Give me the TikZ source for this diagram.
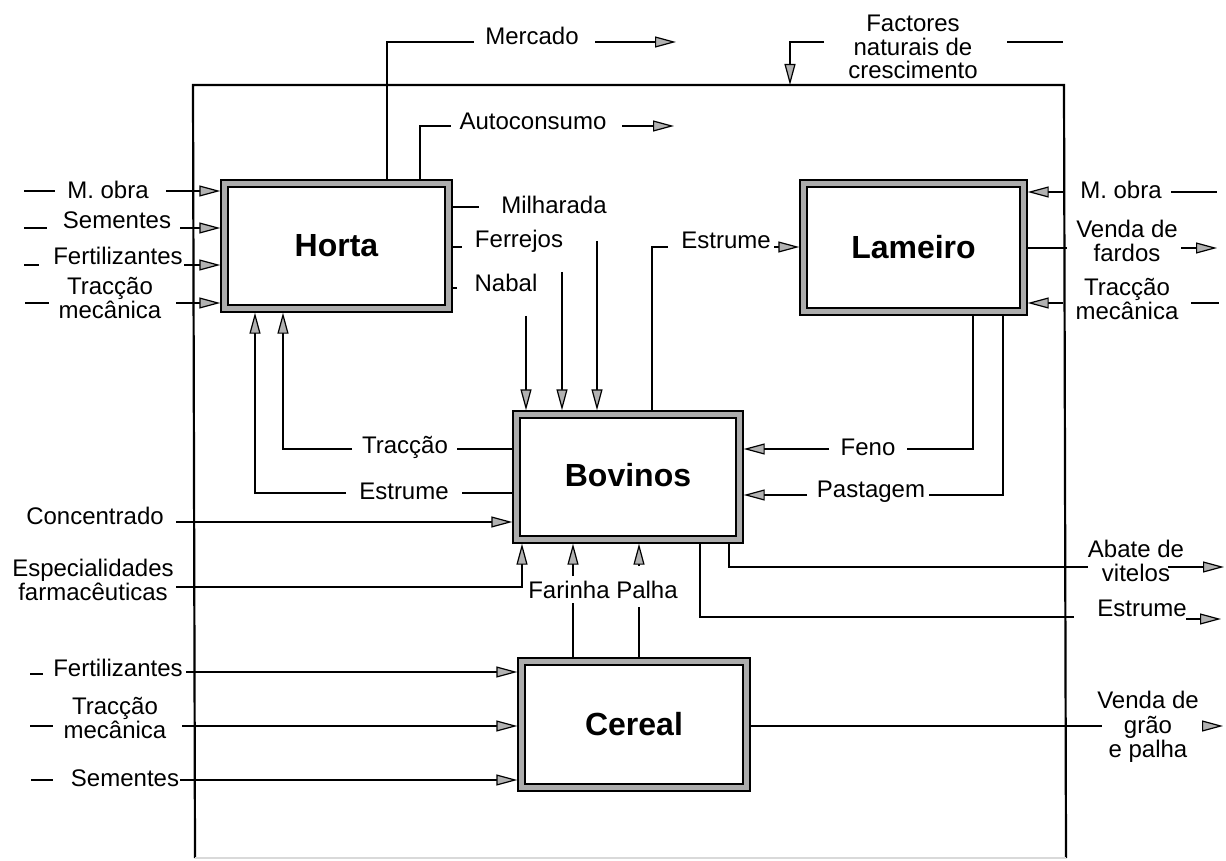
\documentclass[tikz,border=0pt]{standalone}
\usepackage{fontspec}
\setmainfont{Liberation Sans}
\usetikzlibrary{arrows.meta}
\begin{document}
\begin{tikzpicture}[x=0.5pt,y=-0.5pt,line width=0.9pt,
  lbl/.style={font=\fontsize{12}{11.8}\selectfont, inner sep=1pt, align=center},
  boxst/.style={rectangle, draw=black, line width=0.8pt, double=gray!65, double distance=2.6pt,
     inner sep=0pt, outer sep=2.1pt, font=\fontsize{16}{17}\selectfont\bfseries},
  arr/.style={-{Triangle[length=10.5pt,width=5.5pt,fill=gray!60,line width=0.6pt]}}
]
\useasboundingbox (0,0) rectangle (1226,861);

% outer frame
\coordinate (fTL) at (193,85);
\coordinate (fTR) at (1064,85);
\coordinate (fBL) at (195,858);
\coordinate (fBR) at (1066,858);
\draw[line width=1.1pt] (fBL) -- (fTL) -- (fTR) -- (fBR);
\draw[gray!30, line width=0.8pt] (fBL) -- (fBR);

% boxes
\node[boxst, minimum width=112pt, minimum height=62.5pt] (horta) at (336.5,246) {Horta};
\node[boxst, minimum width=110pt, minimum height=64pt] (lameiro) at (913.5,247.5) {Lameiro};
\node[boxst, minimum width=111.5pt, minimum height=62.5pt] (bovinos) at (628,477) {\raisebox{2pt}{Bovinos}};
\node[boxst, minimum width=112.5pt, minimum height=63pt] (cereal) at (634,724.5) {Cereal};

% Mercado
\coordinate (mkA) at (387,42); \coordinate (mkB) at (474,42);
\coordinate (mkC) at (595,42); \coordinate (mkD) at (676,42);
\node[lbl] (mercado) at (532,36) {Mercado};
\draw (horta.north -| mkA) -- (mkA) -- (mkB);
\draw[arr] (mkC) -- (mkD);

% Autoconsumo
\coordinate (acA) at (420,126); \coordinate (acB) at (451,126);
\coordinate (acC) at (622,126); \coordinate (acD) at (674,126);
\node[lbl] (autoc) at (533,121) {Autoconsumo};
\draw (horta.north -| acA) -- (acA) -- (acB);
\draw[arr] (acC) -- (acD);

% Factores naturais de crescimento
\node[lbl] (factores) at (913,47) {Factores\\naturais de\\crescimento};
\coordinate (fnA) at (824,42); \coordinate (fnB) at (790,42);
\coordinate (fnC) at (1007,42); \coordinate (fnD) at (1063,42);
\draw[arr] (fnA) -- (fnB) -- (fnB |- fTL);
\draw (fnC) -- (fnD);

% Horta inputs (left)
\node[lbl] (hmo) at (108,190) {M. obra};
\coordinate (hmoA) at (24,191); \coordinate (hmoB) at (55,191); \coordinate (hmoC) at (166,191);
\draw (hmoA) -- (hmoB);
\draw[arr] (hmoC) -- (hmoC -| horta.west);

\node[lbl] (hsem) at (117,220) {Sementes};
\coordinate (hsemA) at (24,228); \coordinate (hsemB) at (47,228); \coordinate (hsemC) at (180,228);
\draw (hsemA) -- (hsemB);
\draw[arr] (hsemC) -- (hsemC -| horta.west);

\node[lbl] (hfer) at (118,256) {Fertilizantes};
\coordinate (hferA) at (24,265); \coordinate (hferB) at (39,265); \coordinate (hferC) at (184,265);
\draw (hferA) -- (hferB);
\draw[arr] (hferC) -- (hferC -| horta.west);

\node[lbl] (htm) at (110,298) {Tracção\\mecânica};
\coordinate (htmA) at (25,303); \coordinate (htmB) at (49,303); \coordinate (htmC) at (176,303);
\draw (htmA) -- (htmB);
\draw[arr] (htmC) -- (htmC -| horta.west);

% Horta right ticks
\node[lbl] (milh) at (554,205) {Milharada};
\coordinate (milhA) at (479,207);
\draw (milhA -| horta.east) -- (milhA);
\node[lbl] (ferr) at (519,241) {Ferrejos};
\coordinate (ferrA) at (462,247);
\draw (ferrA -| horta.east) -- (ferrA);
\node[lbl] (nabal) at (506,283) {Nabal};
\coordinate (nabA) at (457,288);
\draw (nabA -| horta.east) -- (nabA);

% three inputs down into Bovinos
\coordinate (dn1) at (526,316); \coordinate (dn2) at (562,272); \coordinate (dn3) at (597,241);
\draw[arr] (dn1) -- (dn1 |- bovinos.north);
\draw[arr] (dn2) -- (dn2 |- bovinos.north);
\draw[arr] (dn3) -- (dn3 |- bovinos.north);

% Estrume Bovinos -> Lameiro
\node[lbl] (estL) at (726,240) {Estrume};
\coordinate (elA) at (652,247); \coordinate (elB) at (668,247); \coordinate (elC) at (774,247);
\draw (bovinos.north -| elA) -- (elA) -- (elB);
\draw[arr] (elC) -- (elC -| lameiro.west);

% Lameiro right side
\node[lbl] (lmo) at (1121,190) {M. obra};
\coordinate (lmoA) at (1063,192); \coordinate (lmoB) at (1171,192); \coordinate (lmoC) at (1217,192);
\draw[arr] (lmoA) -- (lmoA -| lameiro.east);
\draw (lmoB) -- (lmoC);

\node[lbl] (lvf) at (1127,241) {Venda de\\fardos};
\coordinate (lvfA) at (1067,248); \coordinate (lvfB) at (1181,248); \coordinate (lvfC) at (1217,248);
\draw (lvfA -| lameiro.east) -- (lvfA);
\draw[arr] (lvfB) -- (lvfC);

\node[lbl] (ltm) at (1127,299) {Tracção\\mecânica};
\coordinate (ltmA) at (1063,303); \coordinate (ltmB) at (1191,303); \coordinate (ltmC) at (1219,303);
\draw[arr] (ltmA) -- (ltmA -| lameiro.east);
\draw (ltmB) -- (ltmC);

% Lameiro -> Bovinos (Feno, Pastagem)
\node[lbl] (feno) at (868,447) {Feno};
\coordinate (fenA) at (973,449); \coordinate (fenB) at (907,449); \coordinate (fenC) at (829,449);
\draw (lameiro.south -| fenA) -- (fenA) -- (fenB);
\draw[arr] (fenC) -- (fenC -| bovinos.east);

\node[lbl] (past) at (871,492) {Pastagem};
\coordinate (paA) at (1003,495); \coordinate (paB) at (929,495); \coordinate (paC) at (807,495);
\draw (lameiro.south -| paA) -- (paA) -- (paB);
\draw[arr] (paC) -- (paC -| bovinos.east);

% Bovinos -> Horta (Tracção, Estrume)
\node[lbl] (btr) at (405,447) {Tracção};
\coordinate (btA) at (457,449); \coordinate (btB) at (352,449); \coordinate (btC) at (283,449);
\draw (btA -| bovinos.west) -- (btA);
\draw[arr] (btB) -- (btC) -- (btC |- horta.south);

\node[lbl] (bes) at (404,491) {Estrume};
\coordinate (beA) at (462,493); \coordinate (beB) at (346,493); \coordinate (beC) at (255,493);
\draw (beA -| bovinos.west) -- (beA);
\draw[arr] (beB) -- (beC) -- (beC |- horta.south);

% Concentrado, Especialidades
\node[lbl] (conc) at (95,516) {Concentrado};
\coordinate (coA) at (176,522);
\draw[arr] (coA) -- (coA -| bovinos.west);

\node[lbl] (espec) at (93,580) {Especialidades\\farmacêuticas};
\coordinate (spA) at (176,587); \coordinate (spB) at (522,587);
\draw[arr] (spA) -- (spB) -- (spB |- bovinos.south);

% Cereal -> Bovinos (Farinha, Palha)
\node[lbl] (farpal) at (603,590) {Farinha Palha};
\coordinate (faA) at (573,576); \coordinate (faB) at (573,603);
\draw[arr] (faA) -- (faA |- bovinos.south);
\draw (cereal.north -| faB) -- (faB);
\coordinate (plA) at (639,566); \coordinate (plB) at (639,607);
\draw[arr] (plA) -- (plA |- bovinos.south);
\draw (cereal.north -| plB) -- (plB);

% Bovinos outputs
\node[lbl] (abate) at (1136,561) {Abate de\\vitelos};
\coordinate (abA) at (729,567); \coordinate (abB) at (1088,567);
\coordinate (abC) at (1168,567); \coordinate (abD) at (1224,567);
\draw (bovinos.south -| abA) -- (abA) -- (abB);
\draw[arr] (abC) -- (abD);

\node[lbl] (estB) at (1142,608) {Estrume};
\coordinate (ebA) at (700,617); \coordinate (ebB) at (1074,617);
\coordinate (ebC) at (1186,619); \coordinate (ebD) at (1221,619);
\draw (bovinos.south -| ebA) -- (ebA) -- (ebB);
\draw[arr] (ebC) -- (ebD);

% Cereal inputs
\node[lbl] (cfer) at (118,668) {Fertilizantes};
\coordinate (cfA) at (30,674); \coordinate (cfB) at (43,674); \coordinate (cfC) at (186,672);
\draw (cfA) -- (cfB);
\draw[arr] (cfC) -- (cfC -| cereal.west);

\node[lbl] (ctm) at (115,718) {Tracção\\mecânica};
\coordinate (ctA) at (30,726); \coordinate (ctB) at (53,726); \coordinate (ctC) at (182,726);
\draw (ctA) -- (ctB);
\draw[arr] (ctC) -- (ctC -| cereal.west);

\node[lbl] (csem) at (125,778) {Sementes};
\coordinate (csA) at (31,780); \coordinate (csB) at (53,780); \coordinate (csC) at (180,780);
\draw (csA) -- (csB);
\draw[arr] (csC) -- (csC -| cereal.west);

% Cereal output
\node[lbl, font=\fontsize{12}{12.2}\selectfont] (cvg) at (1148,727) {Venda de\\grão\\e palha};
\coordinate (cvA) at (1102,726); \coordinate (cvB) at (1202,726); \coordinate (cvC) at (1223,726);
\draw (cvA -| cereal.east) -- (cvA);
\draw[arr] (cvB) -- (cvC);

\end{tikzpicture}
\end{document}
